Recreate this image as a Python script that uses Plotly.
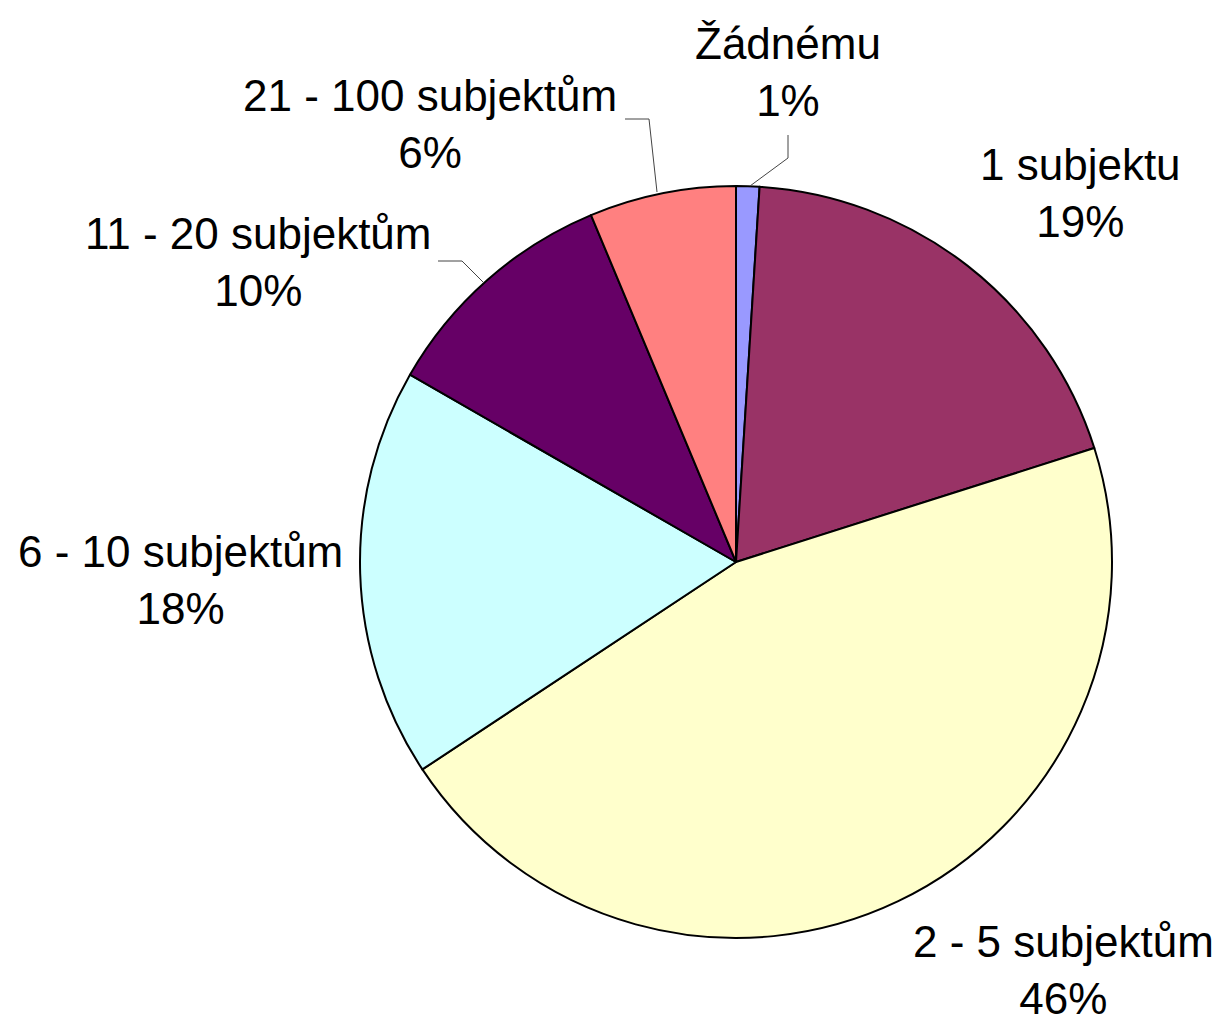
import plotly.graph_objects as go

categories = ["Žádnému", "1 subjektu", "2 - 5 subjektům", "6 - 10 subjektům",
              "11 - 20 subjektům", "21 - 100 subjektům"]
values = [1.0, 19.1, 45.6, 17.6, 10.4, 6.3]
pct_labels = ["1%", "19%", "46%", "18%", "10%", "6%"]
colors = ["#9999FF", "#993366", "#FFFFCC", "#CCFFFF", "#660066", "#FF8080"]

W, H = 1222, 1029
# label block centres (pixels)
label_pos = [(788, 72), (1080, 193), (1063, 970), (180, 580), (258, 262), (430, 124)]
# leader lines (pixels) for selected labels
leaders = [
    [(788, 135), (788, 158), (750, 186)],
    [(625, 119), (649, 119), (657, 192)],
    [(438, 261), (462, 261), (483, 282)],
]

def px(x, y):
    return x / W, 1 - y / H

fig = go.Figure(go.Pie(
    labels=categories,
    values=values,
    sort=False,
    direction="clockwise",
    rotation=0,
    marker=dict(colors=colors, line=dict(color="#000000", width=2)),
    textinfo="none",
    hoverinfo="skip",
    domain=dict(x=[360 / W, 1112 / W], y=[1 - 938 / H, 1 - 186 / H]),
))

annotations = []
for cat, pct, (x, y) in zip(categories, pct_labels, label_pos):
    ax, ay = px(x, y)
    annotations.append(dict(
        x=ax, y=ay, xref="paper", yref="paper",
        text=f"{cat}<br>{pct}", showarrow=False, align="center",
        xanchor="center", yanchor="middle",
        font=dict(family="Liberation Sans, Arial, sans-serif", size=44, color="#000000"),
    ))

shapes = []
for pts in leaders:
    path = "M " + " L ".join(f"{px(x, y)[0]},{px(x, y)[1]}" for x, y in pts)
    shapes.append(dict(type="path", xref="paper", yref="paper", path=path,
                       line=dict(color="#444444", width=1)))

fig.update_layout(
    width=W, height=H,
    margin=dict(l=0, r=0, t=0, b=0),
    showlegend=False,
    paper_bgcolor="#FFFFFF",
    plot_bgcolor="#FFFFFF",
    annotations=annotations,
    shapes=shapes,
)

fig.write_html("out.html",
               config={"displayModeBar": False},
               post_script="document.body.style.margin='0';document.body.style.overflow='hidden';")
